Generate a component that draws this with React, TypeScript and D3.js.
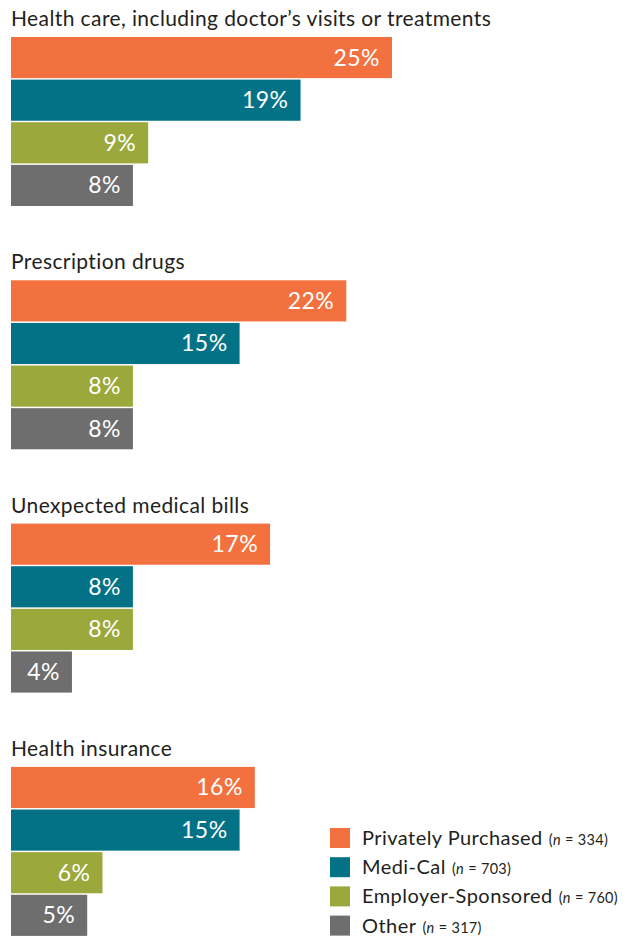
import React from "react";
import * as d3 from "d3";

const categories = [
  "Health care, including doctor’s visits or treatments",
  "Prescription drugs",
  "Unexpected medical bills",
  "Health insurance",
];
const seriesNames = ["Privately Purchased", "Medi-Cal", "Employer-Sponsored", "Other"];
const seriesN = ["334", "703", "760", "317"];
const privatelyPurchased = [25, 22, 17, 16];
const mediCal = [19, 15, 8, 15];
const employerSponsored = [9, 8, 8, 6];
const other = [8, 8, 4, 5];
const colors = ["#F2713F", "#037287", "#9BA83B", "#6E6E6E"];

const W = 643;
const H = 939;
const FONT = "Lato, 'Open Sans', sans-serif";

export default function App() {
  const series = [privatelyPurchased, mediCal, employerSponsored, other];
  const x = d3.scaleLinear().domain([0, 25]).range([11, 392]);
  const groupY = d3
    .scaleBand<number>()
    .domain(d3.range(categories.length))
    .range([37, 37 + 243.3 * categories.length])
    .paddingInner(0);
  const barY = d3
    .scaleBand<number>()
    .domain(d3.range(seriesNames.length))
    .range([0, 169])
    .paddingInner(0.035)
    .paddingOuter(0);
  const legendY = d3
    .scaleBand<number>()
    .domain(d3.range(seriesNames.length))
    .range([828, 828 + 29.2 * seriesNames.length]);

  return (
    <svg
      width={W}
      height={H}
      style={{ position: "absolute", left: 0, top: 0, fontFamily: FONT }}
    >
      <rect width={W} height={H} fill="#ffffff" />
      {categories.map((cat, gi) => {
        const gy = groupY(gi)!;
        return (
          <g key={cat}>
            <text x={11} y={gy - 11} fontSize={21} letterSpacing={0.4} fill="#231F20">
              {cat}
            </text>
            {series.map((vals, si) => {
              const y0 = gy + barY(si)!;
              const v = vals[gi];
              return (
                <g key={si}>
                  <rect
                    x={x(0)}
                    y={y0}
                    width={x(v) - x(0)}
                    height={barY.bandwidth()}
                    fill={colors[si]}
                  />
                  <text
                    x={x(v) - 12}
                    y={y0 + barY.bandwidth() / 2 + 8}
                    textAnchor="end"
                    fontSize={23}
                    letterSpacing={0.5}
                    fill="#ffffff"
                  >
                    {v}%
                  </text>
                </g>
              );
            })}
          </g>
        );
      })}
      {seriesNames.map((name, i) => {
        const ly = legendY(i)!;
        return (
          <g key={name}>
            <rect x={330} y={ly} width={20} height={20} fill={colors[i]} />
            <text x={362} y={ly + 17} fontSize={20} letterSpacing={0.45} fill="#231F20">
              {name}
              <tspan fontSize={14.5} letterSpacing={0.3} dx={6}>
                (
              </tspan>
              <tspan fontSize={14.5} fontStyle="italic">
                n
              </tspan>
              <tspan fontSize={14.5} letterSpacing={0.3}>{"\u00A0=\u00A0"}{seriesN[i]})</tspan>
            </text>
          </g>
        );
      })}
    </svg>
  );
}
